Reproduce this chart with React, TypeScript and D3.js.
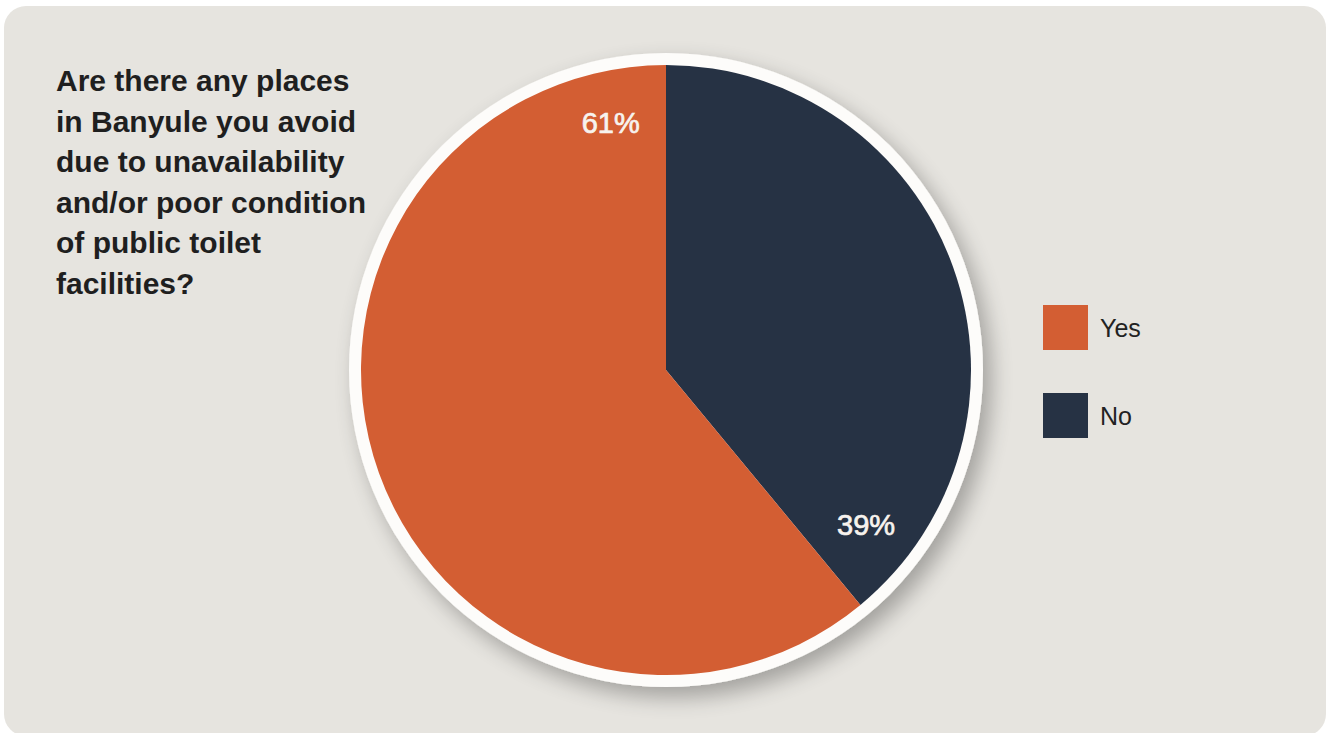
import React from "react";
import * as d3 from "d3";

const categories = ["Yes", "No"];
const values = [61, 39];
const colors = ["#d35e33", "#263244"];
const titleLines = [
  "Are there any places",
  "in Banyule you avoid",
  "due to unavailability",
  "and/or poor condition",
  "of public toilet",
  "facilities?",
];

const W = 1327;
const H = 733;

export default function App() {
  const cx = 666;
  const cy = 370;
  const R = 305;
  const data = categories.map((c, i) => ({ c, v: values[i], color: colors[i] }));
  // "No" drawn first, starting at 12 o'clock
  const ordered = [data[1], data[0]];
  const pie = d3.pie<any>().value((d) => d.v).sort(null);
  const arcs = pie(ordered);
  const arc = d3.arc<any>().innerRadius(0).outerRadius(R);
  const labelR = R * 0.83;
  const labelOffset = 0.22;

  return (
    <svg
      width={W}
      height={H}
      style={{ position: "fixed", left: 0, top: 0, background: "#fff" }}
    >
      <defs>
        <filter id="sh" x="-20%" y="-20%" width="140%" height="140%">
          <feGaussianBlur in="SourceAlpha" stdDeviation="11" />
          <feOffset dx="8" dy="10" result="b" />
          <feComponentTransfer>
            <feFuncA type="linear" slope="0.3" />
          </feComponentTransfer>
          <feMerge>
            <feMergeNode />
            <feMergeNode in="SourceGraphic" />
          </feMerge>
        </filter>
      </defs>
      <rect x={4} y={6} width={1322} height={730} rx={22} fill="#e6e4df" />
      <g fontFamily="'Liberation Sans', Arial, sans-serif" fontWeight="bold" fontSize={30} fill="#1f1f1f">
        {titleLines.map((t, i) => (
          <text key={i} x={56} y={91 + i * 40.5}>
            {t}
          </text>
        ))}
      </g>
      <circle cx={cx} cy={cy} r={317} fill="#fdfcfa" filter="url(#sh)" />
      <g transform={`translate(${cx},${cy})`}>
        {arcs.map((a, i) => (
          <path key={i} d={arc(a) as string} fill={a.data.color} />
        ))}
        {arcs.map((a, i) => {
          const ang = a.endAngle - labelOffset;
          const x = Math.sin(ang) * labelR;
          const y = -Math.cos(ang) * labelR;
          return (
            <text
              key={"l" + i}
              x={x}
              y={y}
              textAnchor="middle"
              dominantBaseline="central"
              fontFamily="'Liberation Sans', Arial, sans-serif"
              fontSize={29}
              fill="#f7f3ee"
              stroke="#f7f3ee"
              strokeWidth={0.7}
            >
              {a.data.v}%
            </text>
          );
        })}
      </g>
      <g fontFamily="'Liberation Sans', Arial, sans-serif" fontSize={25} fill="#222">
        {data.map((d, i) => (
          <g key={i} transform={`translate(1043,${305 + i * 88})`}>
            <rect width={45} height={45} fill={d.color} />
            <text x={57} y={32}>{d.c}</text>
          </g>
        ))}
      </g>
    </svg>
  );
}
